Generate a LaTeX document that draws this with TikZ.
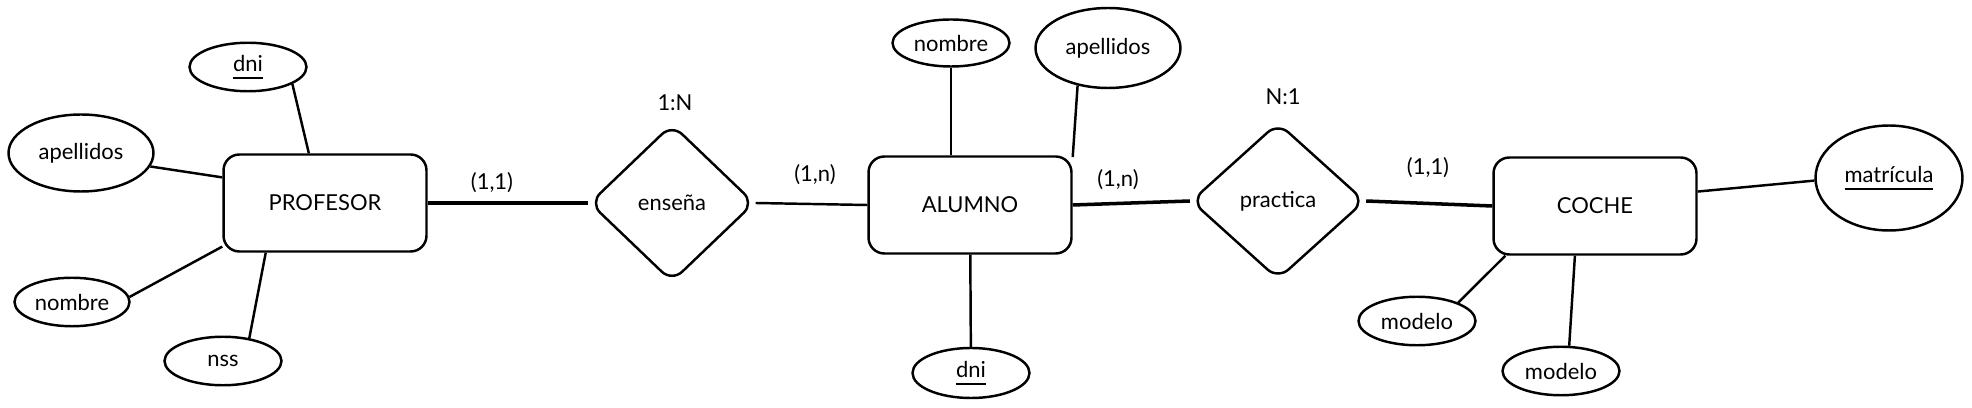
\documentclass[tikz,border=0pt]{standalone}
\usepackage{fontspec}
\setmainfont{Lato}
\usetikzlibrary{shapes.geometric}
\newcommand{\pk}[1]{\vtop{\hbox{#1}\kern3pt\hrule height 1.2pt}}

\begin{document}
\begin{tikzpicture}
[x=0.02cm,y=-0.02cm,line width=1.4pt,font=\fontsize{12.5}{14}\selectfont,
entity/.style={rectangle,draw=black,fill=white,rounded corners=9pt,minimum width=4.06cm,minimum height=1.94cm},
rel/.style={diamond,draw=black,fill=white,rounded corners=8pt,inner sep=0pt,minimum width=3.3cm,minimum height=3.16cm},
attr/.style={ellipse,draw=black,fill=white,inner sep=0pt,minimum width=2.34cm,minimum height=0.97cm},
card/.style={inner sep=1pt},
link/.style={line width=2pt}]
\useasboundingbox (0,0) rectangle (1972,408);
% entidades
\node[entity] at (325,203) (prof) {PROFESOR};
\node[entity] at (970,205) (alu) {ALUMNO};
\node[entity] at (1595,206) (coche) {COCHE};
% relaciones
\node[rel] at (672,203) (ensena) {enseña};
\node[rel,minimum width=3.48cm,minimum height=3.14cm] at (1278,201) (practica) {practica};
% atributos
\node[attr] at (248,67) (profdni) {\pk{dni}};
\node[attr,minimum width=2.9cm,minimum height=1.54cm] at (81,153) (profape) {apellidos};
\node[attr,minimum width=2.3cm] at (72,302) (profnom) {nombre};
\node[attr] at (223,361) (profnss) {nss};
\node[attr,minimum height=0.94cm] at (951,43) (alunom) {nombre};
\node[attr,minimum width=2.9cm,minimum height=1.6cm] at (1108,48) (aluape) {apellidos};
\node[attr,minimum height=1cm] at (971,373) (aludni) {\pk{dni}};
\node[attr,minimum width=2.94cm,minimum height=2.1cm] at (1889,178) (cochemat) {\pk{matrícula}};
\node[attr] at (1417,321) (cochemod) {modelo};
\node[attr] at (1561,371) (cochemodb) {modelo};
% cardinalidades
\node[card] at (675,103) (ensenatipo) {1:N};
\node[card] at (492,183) (profcard) {(1,1)};
\node[card] at (815,175) (aluensena) {(1,n)};
\node[card] at (1118,180) (alupractica) {(1,n)};
\node[card] at (1283,97) (practicatipo) {N:1};
\node[card] at (1428,168) (cochecard) {(1,1)};
% conexiones
\draw[link] (prof.east) -- (ensena.west);
\draw (ensena.east) -- (alu.west);
\draw[link] (alu.east) -- (practica.west);
\draw[link] (practica.east) -- (coche.west);
\draw (profdni.-21) -- (prof.108);
\draw (profape.-11) -- (prof.166);
\draw (profnom.5) -- (prof.203);
\draw (profnss.41) -- (prof.-140);
\draw (alunom.south) -- (alunom.south |- alu.north);
\draw (aluape.-129) -- (alu.25);
\draw (alu) -- (aludni);
\draw (coche.8) -- (cochemat.182);
\draw (coche.-151) -- (cochemod.24);
\draw (coche.-112) -- (cochemodb.72);
\end{tikzpicture}
\end{document}
